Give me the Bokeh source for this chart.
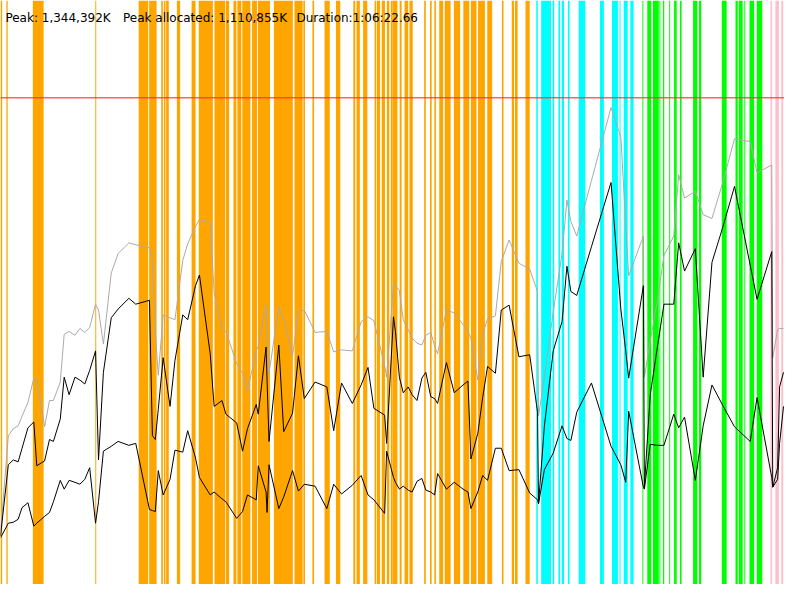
from bokeh.plotting import figure
from bokeh.models import Range1d, ColumnDataSource
from bokeh.core.properties import value
from bokeh.embed import file_html
from bokeh.resources import INLINE

# ---- data (time axis in 1/800 of run duration, memory in chart units; 500 = peak) ----
t = [0, 8, 13, 18, 22, 28, 34, 37, 45, 50, 54, 61, 65, 70, 76, 81, 86, 91, 97, 100,
     105, 113, 120, 131, 138, 152, 155, 158, 161, 166, 173, 178, 186, 191, 199, 203,
     214, 218, 226, 230, 241, 247, 252, 261, 263, 271, 272, 274, 284, 289, 298, 304,
     310, 321, 333, 340, 348, 359, 368, 375, 381, 392, 394, 401, 403, 407, 411, 416,
     420, 425, 430, 434, 439, 443, 446, 455, 463, 472, 477, 480, 487, 492, 497, 505,
     511, 519, 529, 540, 548, 549, 555, 564, 573, 578, 582, 588, 603, 623, 633, 638,
     641, 656, 657, 663, 670, 677, 687, 692, 698, 709, 717, 726, 737, 749, 765, 772,
     787, 788, 793, 795, 799]

heap_total = [52, 153, 160, 163, 173, 187, 212, 210, 162, 189, 189, 208, 257, 260, 256, 263, 259, 264, 288, 282,
              247, 320, 340, 351, 349, 346, 333, 260, 215, 277, 274, 272, 333, 350, 368, 375,
              372, 300, 263, 260, 227, 217, 199, 240, 245, 287, 260, 217, 285, 273, 235, 280,
              282, 259, 260, 239, 241, 240, 270, 275, 271, 225, 213, 308, 307, 302, 272, 262,
              253, 248, 246, 256, 259, 245, 237, 282, 279, 267, 260, 253, 210, 257, 273, 276,
              332, 354, 330, 324, 301, 173, 213, 280, 340, 395, 373, 358, 415, 490, 460, 370,
              317, 358, 213, 250, 290, 338, 358, 421, 397, 404, 380, 376, 413, 458, 455, 423,
              431, 233, 262, 263, 263]

heap_allocated = [50, 123, 128, 126, 140, 161, 167, 122, 127, 149, 147, 170, 213, 195, 213, 210, 206, 220, 240, 128,
                  218, 274, 283, 294, 288, 292, 153, 149, 180, 233, 183, 230, 277, 272, 307, 318,
                  237, 183, 189, 175, 166, 137, 160, 185, 175, 244, 210, 147, 246, 157, 176, 235,
                  191, 208, 203, 158, 207, 186, 205, 223, 181, 174, 145, 275, 260, 213, 197, 203,
                  195, 189, 212, 218, 193, 191, 186, 228, 197, 205, 209, 129, 155, 192, 224, 217,
                  282, 287, 234, 236, 177, 83, 163, 240, 270, 327, 301, 297, 347, 413, 283, 240,
                  212, 307, 100, 195, 242, 288, 288, 351, 322, 345, 213, 331, 367, 409, 328, 293,
                  342, 100, 120, 203, 218]

heap_live = [48, 63, 64, 67, 79, 84, 60, 63, 70, 74, 85, 107, 98, 107, 105, 103, 108, 120, 63, 85,
             137, 142, 147, 143, 145, 77, 76, 75, 117, 92, 108, 138, 136, 158, 130, 110,
             92, 95, 88, 85, 68, 75, 92, 87, 122, 95, 74, 123, 78, 90, 117, 96,
             103, 101, 78, 103, 93, 102, 112, 92, 87, 73, 137, 110, 105, 98, 101, 97,
             95, 106, 109, 97, 95, 92, 114, 98, 105, 98, 95, 78, 95, 112, 107, 140,
             140, 117, 118, 94, 87, 83, 118, 135, 163, 150, 148, 177, 207, 142, 123, 105,
             178, 100, 98, 144, 143, 143, 175, 161, 172, 107, 163, 205, 184, 162, 147, 192,
             110, 100, 108, 145, 183]

peak_level = 500

# event spans (start, end)
young_start = [0, 6, 33, 96.7, 141, 151.7, 164, 166.7, 169, 180, 195,
               202.3, 218.3, 230, 237.7, 241.7, 246.7, 256.7, 262.7, 279, 300, 309, 318.3, 330.7,
               342.3, 360, 363.3, 370, 381.7, 384, 389, 394.3, 398.3,
               400, 407.3, 412.3, 417.3, 432.3, 438.3, 442.7, 447.7, 453.3, 462.7, 472.3, 480,
               487.3, 496.7, 511.7, 521.7, 525, 535.7]
young_end = [1.7, 7.3, 44, 97.7, 150.7, 159.3, 165.7, 168.3, 171.7, 183.3, 199,
             216.7, 229.3, 233.3, 240.7, 245.7, 255, 261.7, 275, 298.3, 308.3, 310.7, 320, 336,
             346.7, 362, 366.7, 374.3, 383.3, 387.3, 392.3, 396.7, 400,
             405, 409.3, 416, 420.7, 434, 440, 444.3, 451.7, 459.3, 469, 478.3, 485.7,
             494.3, 501.7, 513.3, 524, 527.7, 540]

mixed_start = [546.7, 551.7, 563.3, 569.3, 572.7, 579, 590, 611.7, 624, 631.7, 636, 642.7]
mixed_end = [548.3, 561.7, 565, 571, 575, 580.7, 596.7, 615.7, 630, 632.7, 640, 646]

full_start = [655, 660, 665.7, 672.3, 676, 682.3, 687.3, 693.3, 706.7, 712.7, 736, 750,
              753.3, 759, 764.3, 771.7]
full_end = [656, 664, 671.7, 673.3, 677.3, 683.3, 690, 695, 711, 715, 741, 752.3,
            757.3, 760, 769, 777.3]

remark_start = [785.7, 790.7, 796.7]
remark_end = [787.3, 794.3, 798.7]

header = ["Peak: 1,344,392K", "Peak allocated: 1,110,855K", "Duration:1:06:22.66"]
header_x = [5, 125, 302]

# ---- figure ----
p = figure(width=784, height=584, output_backend="svg", toolbar_location=None,
           x_range=Range1d(0, 800), y_range=Range1d(0, 600), min_border=0)
p.xaxis.visible = False
p.yaxis.visible = False
p.xgrid.visible = False
p.ygrid.visible = False
p.outline_line_color = None
p.background_fill_color = "white"
p.border_fill_color = "white"

for starts, ends, col in [(young_start, young_end, "#FFA500"),
                          (mixed_start, mixed_end, "#00FFFF"),
                          (full_start, full_end, "#00FF00"),
                          (remark_start, remark_end, "#FFC0CB")]:
    p.quad(left=starts, right=ends, bottom=0, top=600, fill_color=col, line_color=None)

p.line(t, heap_total, line_color="#AAAAAA", line_width=1)
p.line(t, heap_allocated, line_color="black", line_width=1)
p.line(t, heap_live, line_color="black", line_width=1)

p.line([0, 800], [peak_level, peak_level], line_color="#FF3030", line_alpha=0.75, line_width=1.5)

src = ColumnDataSource(dict(x=header_x, y=[582] * 3, text=header))
p.text(x="x", y="y", text="text", source=src, text_font=value("DejaVu Sans"),
       text_font_size="12px", text_color="black", text_baseline="alphabetic", text_align="left")

open("out.html", "w").write(file_html(p, INLINE))
